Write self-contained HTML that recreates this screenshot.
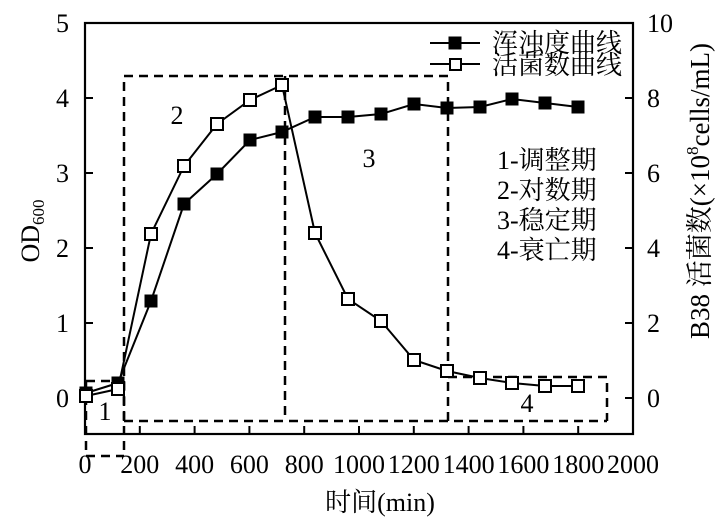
<!DOCTYPE html>
<html><head><meta charset="utf-8">
<style>
html,body{margin:0;padding:0;background:#fff;}
svg{display:block;}
.t{font-family:"Liberation Serif","Noto Serif CJK SC",serif;fill:#000;}
.c{font-family:"Liberation Serif","Noto Serif CJK SC","Noto Sans CJK SC",serif;fill:#000;}
</style></head>
<body>
<svg width="727" height="521" viewBox="0 0 727 521" xmlns="http://www.w3.org/2000/svg">
<rect width="727" height="521" fill="#fff"/>
<!-- dashed phase boxes -->
<g fill="none" stroke="#000" stroke-width="2.5" stroke-dasharray="9,6">
  <polyline points="86,381 124,381"/>
  <line x1="86" y1="381" x2="86" y2="456"/>
  <line x1="124" y1="381" x2="124" y2="456"/>
  <line x1="86" y1="456" x2="124" y2="456"/>
  <polyline points="124,421 124,76 448,76 448,421"/>
  <line x1="285" y1="76" x2="285" y2="421"/>
  <line x1="124" y1="421" x2="607" y2="421"/>
  <polyline points="448,377 607,377 607,421"/>
</g>
<!-- frame -->
<rect x="85" y="23" width="548" height="411" fill="none" stroke="#000" stroke-width="2.2"/>
<!-- ticks -->
<g stroke="#000" stroke-width="2">
  <line x1="85" y1="98" x2="93" y2="98"/>
  <line x1="85" y1="173" x2="93" y2="173"/>
  <line x1="85" y1="248" x2="93" y2="248"/>
  <line x1="85" y1="323" x2="93" y2="323"/>
  <line x1="85" y1="398" x2="93" y2="398"/>
  <line x1="633" y1="98" x2="625" y2="98"/>
  <line x1="633" y1="173" x2="625" y2="173"/>
  <line x1="633" y1="248" x2="625" y2="248"/>
  <line x1="633" y1="323" x2="625" y2="323"/>
  <line x1="633" y1="398" x2="625" y2="398"/>
  <line x1="139.8" y1="434" x2="139.8" y2="426"/>
  <line x1="194.6" y1="434" x2="194.6" y2="426"/>
  <line x1="249.4" y1="434" x2="249.4" y2="426"/>
  <line x1="304.2" y1="434" x2="304.2" y2="426"/>
  <line x1="359" y1="434" x2="359" y2="426"/>
  <line x1="413.8" y1="434" x2="413.8" y2="426"/>
  <line x1="468.6" y1="434" x2="468.6" y2="426"/>
  <line x1="523.4" y1="434" x2="523.4" y2="426"/>
  <line x1="578.2" y1="434" x2="578.2" y2="426"/>
</g>
<!-- left tick labels -->
<g class="t" font-size="26" text-anchor="end">
  <text x="69" y="32">5</text>
  <text x="69" y="107">4</text>
  <text x="69" y="182">3</text>
  <text x="69" y="257">2</text>
  <text x="69" y="332">1</text>
  <text x="69" y="407">0</text>
</g>
<!-- right tick labels -->
<g class="t" font-size="26" text-anchor="start">
  <text x="647" y="32">10</text>
  <text x="647" y="107">8</text>
  <text x="647" y="182">6</text>
  <text x="647" y="257">4</text>
  <text x="647" y="332">2</text>
  <text x="647" y="407">0</text>
</g>
<!-- x tick labels -->
<g class="t" font-size="26" text-anchor="middle">
  <text x="85" y="473">0</text>
  <text x="139.8" y="473">200</text>
  <text x="194.6" y="473">400</text>
  <text x="249.4" y="473">600</text>
  <text x="304.2" y="473">800</text>
  <text x="359" y="473">1000</text>
  <text x="413.8" y="473">1200</text>
  <text x="468.6" y="473">1400</text>
  <text x="523.4" y="473">1600</text>
  <text x="578.2" y="473">1800</text>
  <text x="633" y="473">2000</text>
</g>
<!-- axis titles -->
<text class="c" x="380" y="511" font-size="26" text-anchor="middle">时间(min)</text>
<g transform="translate(39,231) rotate(-90)">
  <text class="t" font-size="26" text-anchor="middle">OD<tspan font-size="17" dy="5">600</tspan></text>
</g>
<g transform="translate(709,191) rotate(-90)">
  <text class="c" font-size="27" text-anchor="middle">B38 活菌数(×10<tspan font-size="17" dy="-11">8</tspan><tspan dy="11">cells/mL)</tspan></text>
</g>
<!-- series: turbidity (filled) -->
<polyline fill="none" stroke="#000" stroke-width="2" points="86,393 118,383 151,301 184,204 217,174 250,140 282,132 315,117 348,117 381,114 414,104 447,108 480,107 512,99 545,103 578,107"/>
<!-- series: live count (open) -->
<polyline fill="none" stroke="#000" stroke-width="2" points="86,396 118,389 151,234 184,166 217,124 250,100 282,85 315,233 348,299 381,321 414,360 447,371 480,378 512,383 545,386 578,386"/>
<g fill="#000">
  <rect x="79.5" y="386.5" width="13" height="13"/>
  <rect x="111.5" y="376.5" width="13" height="13"/>
  <rect x="144.5" y="294.5" width="13" height="13"/>
  <rect x="177.5" y="197.5" width="13" height="13"/>
  <rect x="210.5" y="167.5" width="13" height="13"/>
  <rect x="243.5" y="133.5" width="13" height="13"/>
  <rect x="275.5" y="125.5" width="13" height="13"/>
  <rect x="308.5" y="110.5" width="13" height="13"/>
  <rect x="341.5" y="110.5" width="13" height="13"/>
  <rect x="374.5" y="107.5" width="13" height="13"/>
  <rect x="407.5" y="97.5" width="13" height="13"/>
  <rect x="440.5" y="101.5" width="13" height="13"/>
  <rect x="473.5" y="100.5" width="13" height="13"/>
  <rect x="505.5" y="92.5" width="13" height="13"/>
  <rect x="538.5" y="96.5" width="13" height="13"/>
  <rect x="571.5" y="100.5" width="13" height="13"/>
</g>
<g fill="#fff" stroke="#000" stroke-width="2">
  <rect x="80" y="390" width="12" height="12"/>
  <rect x="112" y="383" width="12" height="12"/>
  <rect x="145" y="228" width="12" height="12"/>
  <rect x="178" y="160" width="12" height="12"/>
  <rect x="211" y="118" width="12" height="12"/>
  <rect x="244" y="94" width="12" height="12"/>
  <rect x="276" y="79" width="12" height="12"/>
  <rect x="309" y="227" width="12" height="12"/>
  <rect x="342" y="293" width="12" height="12"/>
  <rect x="375" y="315" width="12" height="12"/>
  <rect x="408" y="354" width="12" height="12"/>
  <rect x="441" y="365" width="12" height="12"/>
  <rect x="474" y="372" width="12" height="12"/>
  <rect x="506" y="377" width="12" height="12"/>
  <rect x="539" y="380" width="12" height="12"/>
  <rect x="572" y="380" width="12" height="12"/>
</g>
<!-- phase numbers -->
<g class="t" font-size="26" text-anchor="middle">
  <text x="105" y="420">1</text>
  <text x="177" y="124">2</text>
  <text x="369" y="167">3</text>
  <text x="527" y="412">4</text>
</g>
<!-- legend -->
<g stroke="#000" stroke-width="2">
  <line x1="430" y1="43" x2="480" y2="43"/>
  <line x1="430" y1="64" x2="480" y2="64"/>
</g>
<rect x="448.5" y="36.5" width="13" height="13" fill="#000"/>
<rect x="450" y="59" width="11" height="11" fill="#fff" stroke="#000" stroke-width="2"/>
<g class="c" font-size="26">
  <text x="492" y="52">浑浊度曲线</text>
  <text x="492" y="74">活菌数曲线</text>
</g>
<!-- phase legend -->
<g class="c" font-size="26">
  <text x="497" y="169">1-调整期</text>
  <text x="497" y="199">2-对数期</text>
  <text x="497" y="229">3-稳定期</text>
  <text x="497" y="259">4-衰亡期</text>
</g>
</svg>
</body></html>
